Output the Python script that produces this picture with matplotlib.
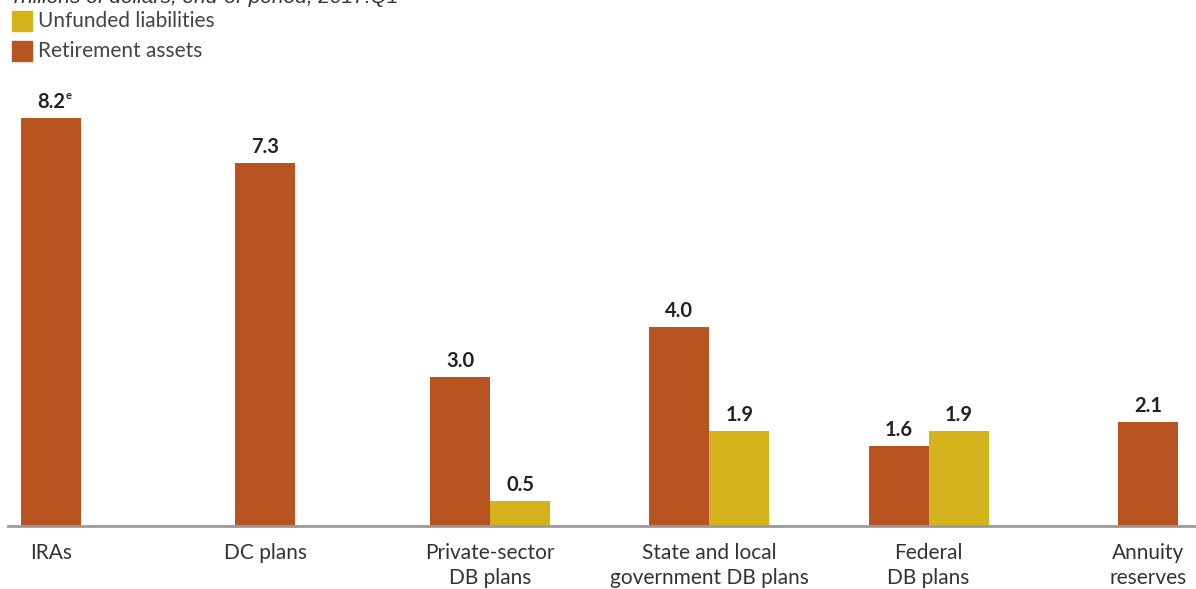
import numpy as np
import matplotlib.pyplot as plt

# --- Data (trillions of dollars) ---
categories = ["IRAs", "DC plans", "Private-sector\nDB plans",
              "State and local\ngovernment DB plans", "Federal\nDB plans",
              "Annuity\nreserves"]
retirement_assets = [8.2, 7.3, 3.0, 4.0, 1.6, 2.1]
unfunded_liabilities = [None, None, 0.5, 1.9, 1.9, None]
asset_labels = ["8.2", "7.3", "3.0", "4.0", "1.6", "2.1"]
liab_labels = [None, None, "0.5", "1.9", "1.9", None]

ORANGE = "#B85422"
YELLOW = "#D4B21B"
FONT = ["Lato", "DejaVu Sans"]

plt.rcParams['font.family'] = FONT

fig = plt.figure(figsize=(11.96, 5.89), dpi=100)
ax = fig.add_axes([8 / 1196, 63 / 589, 1 - 8 / 1196, 1 - 63 / 589])

# category centres (DC plans sits a touch closer to IRAs)
x = np.array([0, 0.974, 2.0, 3.0, 4.0, 5.0])
w = 0.274

for i, (a, u) in enumerate(zip(retirement_assets, unfunded_liabilities)):
    if u is None:
        ax.bar(x[i], a, width=w, color=ORANGE)
        ax.text(x[i], a + 0.12, asset_labels[i], ha='center', va='bottom',
                fontsize=14.5, fontweight='bold', color='#222222')
    else:
        ax.bar(x[i] - w / 2, a, width=w, color=ORANGE)
        ax.bar(x[i] + w / 2, u, width=w, color=YELLOW)
        ax.text(x[i] - w / 2, a + 0.12, asset_labels[i], ha='center',
                va='bottom', fontsize=14.5, fontweight='bold', color='#222222')
        ax.text(x[i] + w / 2, u + 0.12, liab_labels[i], ha='center',
                va='bottom', fontsize=14.5, fontweight='bold', color='#222222')

# superscript "e" on the IRA label
ax.annotate("e", xy=(x[0], retirement_assets[0] + 0.12), xytext=(12.5, 8),
            textcoords='offset points', fontsize=8, fontweight='bold',
            color='#222222', ha='center', va='bottom')

ax.set_xlim(-0.198, 5.219)
ax.set_ylim(0, 526 / 49.76)
ax.set_xticks(x)
ax.set_xticklabels(categories, fontsize=15, color='#333333', linespacing=1.35)
ax.tick_params(axis='x', length=0, pad=12)
ax.set_yticks([])
for s in ['top', 'right', 'left']:
    ax.spines[s].set_visible(False)
ax.spines['bottom'].set_color('#9a9a9a')
ax.spines['bottom'].set_linewidth(2)

# legend squares
fig.patches.append(plt.Rectangle((12 / 1196, 1 - 31 / 589), 20 / 1196, 20 / 589,
                                 transform=fig.transFigure, color=YELLOW))
fig.patches.append(plt.Rectangle((12 / 1196, 1 - 61 / 589), 20 / 1196, 20 / 589,
                                 transform=fig.transFigure, color=ORANGE))
fig.text(38 / 1196, 1 - 21 / 589, "Unfunded liabilities", fontsize=15,
         color='#444444', va='center')
fig.text(38 / 1196, 1 - 51 / 589, "Retirement assets", fontsize=15,
         color='#444444', va='center')

# subtitle, clipped at the top edge as in the source image
fig.text(10 / 1196, 1 - 3 / 589, "Trillions of dollars, end-of-period, 2017:Q1",
         fontsize=15, style='italic', color='#333333', va='baseline',
         family=["Liberation Sans", "DejaVu Sans"])

fig.savefig("out.png", dpi=100)
